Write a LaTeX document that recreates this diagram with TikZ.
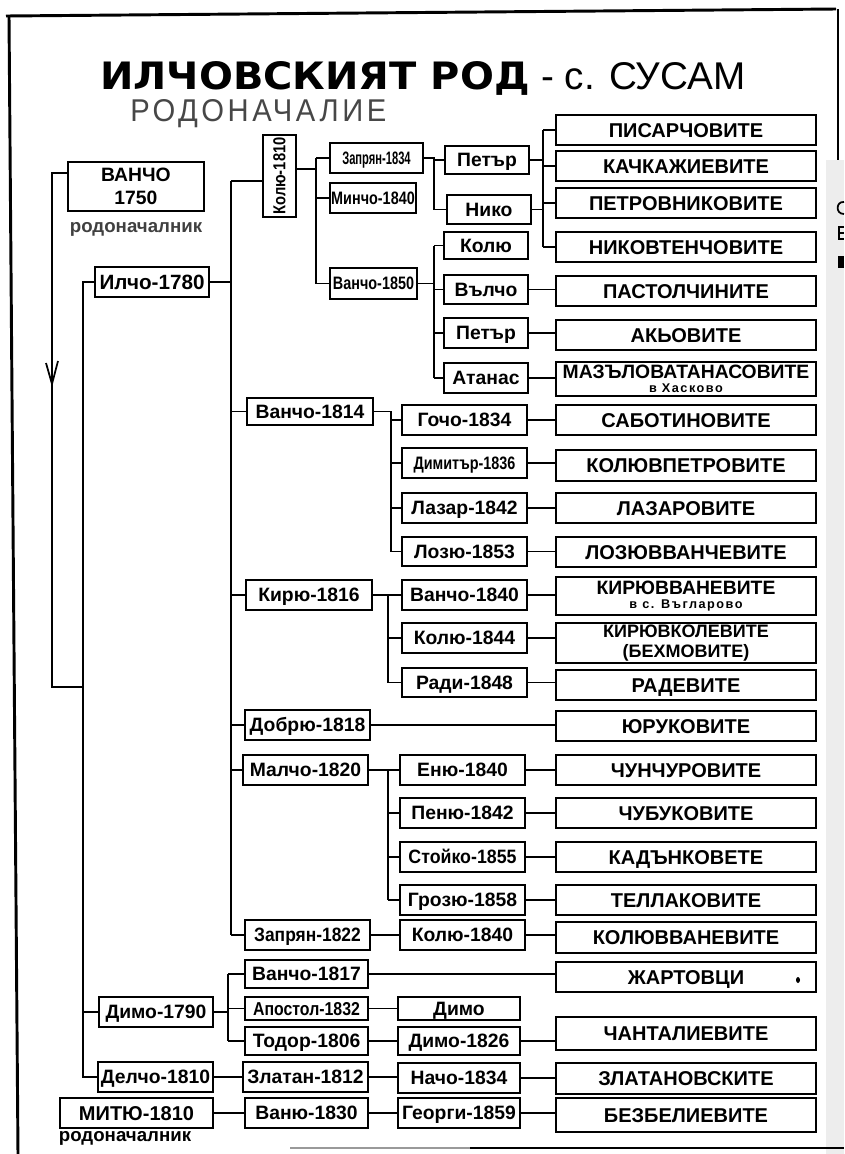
\documentclass[tikz,border=0pt]{standalone}
\usepackage{fontspec}
\usepackage{graphicx}
\setmainfont{Liberation Sans}
\newfontfamily\dejavu{DejaVu Sans}
\usetikzlibrary{calc}
\newcommand\nw[2]{\scalebox{#1}[1]{#2}}
\newcommand\bx[7][box]{\node[#1,minimum width={(#5-(#3))*0.75pt},minimum height={(#6-(#4))*0.75pt}] (#2) at ({(#3+#5)/2},{(#4+#6)/2}) {#7};}
\newcommand\kid[2]{\draw[ln] (#1 |- #2.west) -- (#2.west);}
\newcommand\lnk[2]{\draw[ln] (#1.east) -- (#1.east -| #2.west);}
\tikzset{
  base/.style={draw, line width=1.3pt, inner sep=0pt, fill=white, align=center,
    font=\bfseries\fontsize{14.5}{16}\selectfont},
  box/.style={base, text height=10.4pt, text depth=0pt},
  fam/.style={box, font=\bfseries\fontsize{15}{15}\selectfont, text height=10.7pt},
  famm/.style={base, font=\bfseries\fontsize{14.5}{14.5}\selectfont},
  nar/.style={box, font=\bfseries\fontsize{13.5}{15}\selectfont, text height=9.7pt},
  ln/.style={line width=1pt},
  rodo/.style={inner sep=0pt, font=\bfseries\fontsize{14}{15}\selectfont},
  ttl/.style={anchor=base west, inner sep=0pt}
}
\newcommand\smalltxt[1]{{\fontsize{9.5}{9.5}\selectfont\addfontfeature{LetterSpace=12}#1}}
\begin{document}
\begin{tikzpicture}[x=0.75pt,y=-0.75pt]
\useasboundingbox (0,0) rectangle (844,1154);
\fill[white] (0,0) rectangle (844,1154);
% page frame and edge
\fill[black!7] (826,160) rectangle (844,1154);
\draw[line width=2.2pt] (6,16) -- (836,9);
\draw[line width=2.2pt] (9,16) -- (18,1154);
\draw[line width=1.6pt] (838,9) -- (838,160);
\draw[line width=1.6pt, black!40] (290,1148) -- (470,1148);
\draw[line width=2pt] (470,1148) -- (844,1148);
% fragments of the next page at the right edge
\draw[line width=1.3pt] (844,202) .. controls (836,201) and (835,214) .. (844,214);
\draw[line width=1.3pt] (844,227) -- (839,227) -- (839,239) -- (844,239);
\draw[line width=1.3pt] (839,233) -- (844,233);
\fill (838,256) rectangle (844,268);
% title
\node[ttl] (t1) at (100,89) {\resizebox{322pt}{21pt}{\dejavu\bfseries ИЛЧОВСКИЯТ РОД}};
\node[ttl] (t2) at (541,89) {\fontsize{29}{30}\selectfont - с. СУСАМ};
\node[ttl, text=black!72] (t3) at (130,121) {\resizebox{192pt}{16.5pt}{\addfontfeature{LetterSpace=12}РОДОНАЧАЛИЕ}};
% ancestors
\bx[base, font=\bfseries\fontsize{14.5}{17.25}\selectfont]{v1750}{68}{162}{204}{211}{ВАНЧО\\1750}
\node[rodo, text=black!75] (rod1) at (136,229) {родоначалник};
\bx[box, font=\bfseries\fontsize{15.5}{17}\selectfont, text height=11.1pt]{il1780}{95}{267}{209}{297}{Илчо-1780}
\node[base, minimum width={33*0.75pt}, minimum height={82*0.75pt}, font=\bfseries\fontsize{13}{14}\selectfont] (k1810) at (279.5,176) {\rotatebox{90}{\nw{0.85}{Колю-1810}}};
% top group
\bx[nar]{zap34}{330}{143}{423}{173}{\nw{0.62}{Запрян-1834}}
\bx[nar]{min40}{330}{183}{416}{213}{\nw{0.8}{Минчо-1840}}
\bx[nar]{van50}{330}{268}{417}{299}{\nw{0.8}{Ванчо-1850}}
\bx{pet1}{445}{146}{529}{174}{Петър}
\bx{nik}{447}{195}{531}{224}{Нико}
\bx{kol}{444}{232}{528}{259}{Колю}
\bx{val}{444}{275}{528}{304}{Вълчо}
\bx{pet2}{444}{318}{528}{348}{Петър}
\bx{ata}{444}{363}{528}{393}{Атанас}
% families
\bx[fam]{f1}{556}{115}{816}{145}{ПИСАРЧОВИТЕ}
\bx[fam]{f2}{556}{151}{816}{181}{КАЧКАЖИЕВИТЕ}
\bx[fam]{f3}{556}{188}{816}{218}{ПЕТРОВНИКОВИТЕ}
\bx[fam]{f4}{556}{232}{816}{262}{НИКОВТЕНЧОВИТЕ}
\bx[fam]{f5}{556}{276}{816}{306}{ПАСТОЛЧИНИТЕ}
\bx[fam]{f6}{556}{320}{816}{350}{АКЬОВИТЕ}
\bx[famm]{f7}{556}{362}{816}{396}{{\fontsize{14.5}{12}\selectfont МАЗЪЛОВАТАНАСОВИТЕ}\\[-4pt]\smalltxt{в Хасково}}
\bx[fam]{f8}{556}{405}{816}{435}{САБОТИНОВИТЕ}
\bx[fam]{f9}{556}{450}{816}{481}{КОЛЮВПЕТРОВИТЕ}
\bx[fam]{f10}{556}{493}{816}{523}{ЛАЗАРОВИТЕ}
\bx[fam]{f11}{556}{537}{816}{567}{ЛОЗЮВВАНЧЕВИТЕ}
\bx[famm, font=\bfseries\fontsize{14.5}{12}\selectfont]{f12}{556}{577}{816}{615}{КИРЮВВАНЕВИТЕ\\[-1pt]\smalltxt{в с. Въгларово}}
\bx[famm, font=\bfseries\fontsize{13.5}{15}\selectfont]{f13}{556}{623}{816}{663}{КИРЮВКОЛЕВИТЕ\\(БЕХМОВИТЕ)}
\bx[fam]{f14}{556}{670}{816}{700}{РАДЕВИТЕ}
\bx[fam]{f15}{556}{711}{816}{741}{ЮРУКОВИТЕ}
\bx[fam]{f16}{556}{755}{816}{785}{ЧУНЧУРОВИТЕ}
\bx[fam]{f17}{556}{798}{816}{828}{ЧУБУКОВИТЕ}
\bx[fam]{f18}{556}{842}{816}{872}{КАДЪНКОВЕТЕ}
\bx[fam]{f19}{556}{885}{816}{915}{ТЕЛЛАКОВИТЕ}
\bx[fam]{f20}{556}{922}{816}{953}{КОЛЮВВАНЕВИТЕ}
\bx[fam]{f21}{556}{962}{816}{992}{ЖАРТОВЦИ}
\bx[fam]{f22}{556}{1017}{816}{1050}{ЧАНТАЛИЕВИТЕ}
\bx[fam]{f23}{556}{1063}{816}{1094}{ЗЛАТАНОВСКИТЕ}
\bx[fam]{f24}{556}{1098}{816}{1132}{БЕЗБЕЛИЕВИТЕ}
\fill (798,980) ellipse (2 and 3);
% generation 2
\bx{v1814}{247}{398}{373}{425}{Ванчо-1814}
\bx{k1816}{246}{580}{372}{610}{Кирю-1816}
\bx{d1818}{245}{710}{370}{740}{Добрю-1818}
\bx{m1820}{243}{755}{368}{785}{Малчо-1820}
\bx{z1822}{245}{920}{370}{950}{\nw{0.9}{Запрян-1822}}
\bx{v1817}{245}{960}{368}{988}{Ванчо-1817}
\bx[box, font=\bfseries\fontsize{14}{15}\selectfont, text height=10pt]{a1832}{245}{997}{368}{1020}{\nw{0.85}{Апостол-1832}}
\bx{t1806}{245}{1027}{368}{1055}{Тодор-1806}
\bx{z1812}{243}{1062}{368}{1092}{Златан-1812}
\bx{v1830}{245}{1098}{368}{1128}{Ваню-1830}
% left column
\bx{d1790}{99}{997}{213}{1027}{Димо-1790}
\bx{d1810}{98}{1062}{213}{1092}{Делчо-1810}
\bx[box, font=\bfseries\fontsize{15}{16}\selectfont, text height=10.7pt]{m1810}{60}{1098}{213}{1128}{МИТЮ-1810}
\node[rodo] (rod2) at (125,1138) {родоначалник};
% generation 3
\bx{g1834}{402}{405}{527}{435}{Гочо-1834}
\bx[nar]{d1836}{402}{448}{527}{478}{\nw{0.8}{Димитър-1836}}
\bx{l1842}{402}{493}{527}{523}{Лазар-1842}
\bx{l1853}{402}{537}{527}{566}{Лозю-1853}
\bx{v1840}{402}{580}{527}{610}{Ванчо-1840}
\bx{k1844}{402}{623}{527}{653}{Колю-1844}
\bx{r1848}{402}{668}{527}{697}{Ради-1848}
\bx{e1840}{400}{755}{525}{785}{Еню-1840}
\bx{p1842}{400}{798}{525}{828}{Пеню-1842}
\bx{s1855}{400}{842}{525}{872}{\nw{0.92}{Стойко-1855}}
\bx{g1858}{400}{885}{525}{915}{Грозю-1858}
\bx{k1840}{400}{920}{525}{950}{Колю-1840}
\bx{dimo}{398}{997}{520}{1020}{Димо}
\bx{d1826}{398}{1027}{520}{1055}{Димо-1826}
\bx{n1834}{398}{1063}{520}{1093}{Начо-1834}
\bx{g1859}{398}{1098}{520}{1128}{Георги-1859}
% bus coordinates
\coordinate (bI) at (83,0);
\coordinate (bB) at (231,0);
\coordinate (bC) at (316,0);
\coordinate (bD) at (434,0);
\coordinate (bE) at (543,0);
\coordinate (bF) at (434,0);
\coordinate (bG) at (391,0);
\coordinate (bH) at (388,0);
\coordinate (bM) at (388,0);
\coordinate (bJ) at (228,0);
\coordinate (jL) at (52,687);
% ВАНЧО 1750 line
\draw[ln] ($(v1750.north west)+(0,12)$) -| (jL) -- (jL -| bI);
\draw[ln, line width=1.3pt] (46,363) -- (52,384) -- (58,361);
% Илчо line
\draw[ln] (il1780.west) -- (il1780.west -| bI) -- (bI |- d1810.west) -- (d1810.west);
\kid{bI}{d1790}
% Илчо -> sons
\draw[ln] (il1780.east) -- (il1780.east -| bB);
\draw[ln] ($(bB |- k1810.west)+(0,5)$) -- (bB |- z1822.west);
\draw[ln] ($(bB |- k1810.west)+(0,5)$) -- ($(k1810.west)+(0,5)$);
\kid{bB}{v1814}\kid{bB}{k1816}\kid{bB}{d1818}\kid{bB}{m1820}\kid{bB}{z1822}
% Колю-1810
\draw[ln] ($(k1810.east)+(0,-7)$) -- ($(k1810.east -| bC)+(0,-7)$);
\draw[ln] (bC |- zap34.west) -- (bC |- van50.west);
\kid{bC}{zap34}\kid{bC}{min40}\kid{bC}{van50}
% Запрян-1834
\draw[ln] (zap34.east) -- (zap34.east -| bD) -- (bD |- nik.west);
\kid{bD}{pet1}\kid{bD}{nik}
% Петър, Нико
\draw[ln] (pet1.east) -- (pet1.east -| bE);
\draw[ln] (nik.east) -- (nik.east -| bE);
\draw[ln] (bE |- f1.west) -- (bE |- f4.west);
\kid{bE}{f1}\kid{bE}{f2}\kid{bE}{f3}\kid{bE}{f4}
% Ванчо-1850
\draw[ln] (van50.east) -- (van50.east -| bF);
\draw[ln] (bF |- kol.west) -- (bF |- ata.west);
\kid{bF}{kol}\kid{bF}{val}\kid{bF}{pet2}\kid{bF}{ata}
\lnk{val}{f5}\lnk{pet2}{f6}\lnk{ata}{f7}
% Ванчо-1814
\draw[ln] (v1814.east) -- (v1814.east -| bG) -- (bG |- l1853.west);
\kid{bG}{g1834}\kid{bG}{d1836}\kid{bG}{l1842}\kid{bG}{l1853}
\lnk{g1834}{f8}\lnk{d1836}{f9}\lnk{l1842}{f10}\lnk{l1853}{f11}
% Кирю-1816
\draw[ln] (k1816.east) -- (k1816.east -| bH) -- (bH |- r1848.west);
\kid{bH}{v1840}\kid{bH}{k1844}\kid{bH}{r1848}
\lnk{v1840}{f12}\lnk{k1844}{f13}\lnk{r1848}{f14}
% Добрю-1818
\lnk{d1818}{f15}
% Малчо-1820
\draw[ln] (m1820.east) -- (m1820.east -| bM) -- (bM |- g1858.west);
\kid{bM}{e1840}\kid{bM}{p1842}\kid{bM}{s1855}\kid{bM}{g1858}
\lnk{e1840}{f16}\lnk{p1842}{f17}\lnk{s1855}{f18}\lnk{g1858}{f19}
% Запрян-1822
\lnk{z1822}{k1840}\lnk{k1840}{f20}
% Димо-1790
\draw[ln] (d1790.east) -- (d1790.east -| bJ);
\draw[ln] (bJ |- v1817.west) -- (bJ |- t1806.west);
\kid{bJ}{v1817}\kid{bJ}{a1832}\kid{bJ}{t1806}
\lnk{v1817}{f21}\lnk{a1832}{dimo}\lnk{t1806}{d1826}\lnk{d1826}{f22}
% Делчо-1810
\lnk{d1810}{z1812}\lnk{z1812}{n1834}\lnk{n1834}{f23}
% МИТЮ-1810
\lnk{m1810}{v1830}\lnk{v1830}{g1859}\lnk{g1859}{f24}
\end{tikzpicture}
\end{document}
